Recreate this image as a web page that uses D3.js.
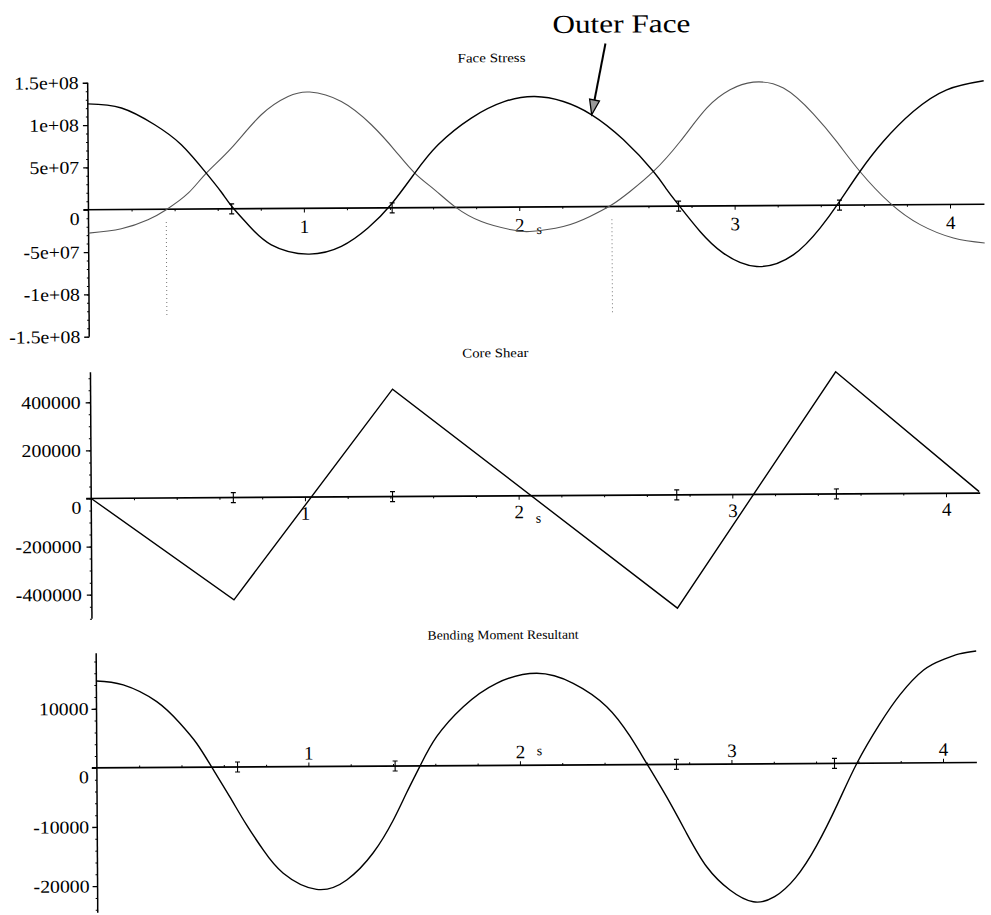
<!doctype html>
<html>
<head>
<meta charset="utf-8">
<script src="https://cdn.jsdelivr.net/npm/d3@7"></script>
<style>
    html, body {
        margin: 0;
        padding: 0;
        background: #fff;
    }
    svg {
        display: block;
    }
    .axis path.domain { display: none; }
    .axis line { stroke: #000; }
</style>
</head>
<body>
<svg id="chart" width="991" height="915"></svg>
<script>
    var SERIF = '"Liberation Serif", "Times New Roman", "DejaVu Serif", serif';

    // s axis
    var sMax = 4.16;
    var xTicks = [1, 2, 3, 4];
    var segmentEnds = [0.665, 1.41, 2.74, 3.487];

    // Face Stress
    var outerS = [0, 0.156, 0.310, 0.433, 0.548, 0.617, 0.666, 0.741, 0.848, 1.018, 1.173, 1.297, 1.404, 1.516, 1.625, 1.780, 1.936, 2.075, 2.208, 2.339, 2.485, 2.624, 2.686, 2.742, 2.839, 2.946, 3.101, 3.271, 3.396, 3.482, 3.583, 3.692, 3.832, 3.988, 4.16];
    var outerFace = [1.25e8, 1.199e8, 9.99e7, 7.61e7, 4.24e7, 2.0e7, 0.28e7, -1.89e7, -4.27e7, -5.4e7, -4.52e7, -2.37e7, 0.37e7, 4.09e7, 7.42e7, 1.055e8, 1.249e8, 1.305e8, 1.244e8, 1.085e8, 7.9e7, 4.11e7, 1.95e7, 0.07e7, -3.01e7, -5.58e7, -7.19e7, -5.84e7, -2.7e7, 0.24e7, 3.96e7, 7.48e7, 1.1e8, 1.354e8, 1.458e8];
    var innerS = [0, 0.152, 0.276, 0.361, 0.462, 0.548, 0.665, 0.805, 0.930, 1.031, 1.177, 1.316, 1.424, 1.516, 1.608, 1.701, 1.824, 1.963, 2.049, 2.204, 2.328, 2.430, 2.515, 2.624, 2.749, 2.873, 2.982, 3.090, 3.230, 3.368, 3.476, 3.583, 3.722, 3.861, 4.015, 4.16];
    var innerFace = [-2.76e7, -2.27e7, -1.23e7, -0.05e7, 1.85e7, 4.24e7, 7.18e7, 1.109e8, 1.323e8, 1.374e8, 1.26e8, 9.83e7, 6.8e7, 4.09e7, 2.1e7, 0.1e7, -1.68e7, -2.68e7, -2.89e7, -2.33e7, -1.16e7, 0.2e7, 1.76e7, 4.11e7, 7.63e7, 1.155e8, 1.37e8, 1.459e8, 1.387e8, 1.08e8, 7.5e7, 3.96e7, 0.2e7, -2.36e7, -3.96e7, -4.57e7];
    var stressTicks = [1.5e8, 1e8, 5e7, 0, -5e7, -1e8, -1.5e8];
    var stressLabels = ["1.5e+08", "1e+08", "5e+07", "0", "-5e+07", "-1e+08", "-1.5e+08"];
    var zeroMarks = [0.361, 2.43];

    // Core Shear
    var shearS = [0, 0.665, 1.413, 2.74, 3.487, 4.155];
    var shear = [0, -425000, 447000, -471000, 508000, 6000];
    var shearTicks = [400000, 200000, 0, -200000, -400000];
    var shearLabels = ["400000", "200000", "0", "-200000", "-400000"];

    // Bending Moment Resultant
    var momentS = [0, 0.127, 0.285, 0.394, 0.472, 0.543, 0.627, 0.706, 0.784, 0.878, 1.035, 1.178, 1.304, 1.400, 1.464, 1.528, 1.607, 1.734, 1.892, 2.082, 2.254, 2.412, 2.521, 2.599, 2.692, 2.786, 2.880, 2.989, 3.099, 3.20, 3.30, 3.40, 3.50, 3.593, 3.70, 3.80, 3.911, 4.0, 4.08, 4.16];
    var moment = [14700, 14010, 11140, 7460, 4060, 0, -5010, -9810, -14060, -18020, -20780, -19220, -14650, -9120, -4500, 0, 4920, 9970, 13890, 15550, 13820, 9830, 4800, 200, -5470, -11680, -17360, -21320, -23330, -22500, -19300, -13900, -6900, 0, 6500, 11600, 15700, 17400, 18400, 18870];
    var momentTicks = [10000, 0, -10000, -20000];
    var momentLabels = ["10000", "0", "-10000", "-20000"];

    var svg = d3.select("#chart");
    // the scan is a little tilted
    var root = svg.append("g").attr("transform", "rotate(-0.35,535,460)");

    var panels = [
        {title: "Face Stress", titleX: 494, titleY: 62, titleLen: 68,
         left: 90, right: 986, top: 80, bottom: 334, yDomain: [-1.5e8, 1.5e8],
         ticks: stressTicks, labels: stressLabels, minor: 1e7, labelPad: 4,
         xSide: "bottom", xPad: 7, sDy: 27,
         series: [{s: innerS, v: innerFace, color: "#555", width: 1.1, curve: d3.curveNatural},
                  {s: outerS, v: outerFace, color: "#000", width: 1.4, curve: d3.curveNatural}]},
        {title: "Core Shear", titleX: 496, titleY: 357, titleLen: 66,
         left: 91, right: 980, top: 369.5, bottom: 616, yDomain: [-500000, 525000],
         ticks: shearTicks, labels: shearLabels, minor: 50000, labelPad: 5,
         xSide: "bottom", xPad: 5, sDy: 27,
         series: [{s: shearS, v: shear, color: "#000", width: 1.4, curve: d3.curveLinear}]},
        {title: "Bending Moment Resultant", titleX: 502, titleY: 639, titleLen: 151,
         left: 95, right: 975, top: 650.5, bottom: 910, yDomain: [-24500, 19400],
         ticks: momentTicks, labels: momentLabels, minor: 2000, labelPad: 3,
         xSide: "top", xPad: 3, sDy: -10,
         series: [{s: momentS, v: moment, color: "#000", width: 1.4, curve: d3.curveNatural}]}
    ];

    var scales = panels.map(drawPanel);

    // vertical dotted markers where the inner face stress changes sign
    var fx = scales[0].x, fy = scales[0].y;
    root.selectAll(".zero-mark").data(zeroMarks).enter().append("line")
        .attr("x1", function(d){ return fx(d); })
        .attr("x2", function(d){ return fx(d); })
        .attr("y1", fy(-0.15e8))
        .attr("y2", fy(-1.28e8))
        .attr("stroke", "#777")
        .attr("stroke-width", 1)
        .attr("stroke-dasharray", "1,3");

    // "Outer Face" call-out
    root.append("text")
        .attr("x", 624).attr("y", 33)
        .attr("text-anchor", "middle")
        .attr("font-size", 26)
        .attr("textLength", 138)
        .attr("lengthAdjust", "spacingAndGlyphs")
        .style("font-family", SERIF)
        .text("Outer Face");

    var tip = [fx(2.339), fy(1.085e8)], tail = [608, 44];
    var dx = tip[0] - tail[0], dy = tip[1] - tail[1], len = Math.sqrt(dx*dx + dy*dy);
    var ux = dx / len, uy = dy / len;
    var base = [tip[0] - ux*15, tip[1] - uy*15];
    root.append("line")
        .attr("x1", tail[0]).attr("y1", tail[1])
        .attr("x2", base[0]).attr("y2", base[1])
        .attr("stroke", "#000").attr("stroke-width", 2);
    root.append("path")
        .attr("d", "M" + tip + "L" + [base[0] - uy*5, base[1] + ux*5] + "L" + [base[0] + uy*5, base[1] - ux*5] + "Z")
        .attr("fill", "#999").attr("stroke", "#000").attr("stroke-width", 1.3);

    function drawPanel(p) {
        var x = d3.scaleLinear().domain([0, sMax]).range([p.left, p.right]);
        var y = d3.scaleLinear().domain(p.yDomain).range([p.bottom, p.top]);
        var g = root.append("g");

        g.append("text")
            .attr("x", p.titleX).attr("y", p.titleY)
            .attr("text-anchor", "middle")
            .attr("font-size", 13)
            .attr("textLength", p.titleLen)
            .attr("lengthAdjust", "spacingAndGlyphs")
            .style("font-family", SERIF)
            .text(p.title);

        // y axis
        var lo = Math.ceil(p.yDomain[0] / p.minor), hi = Math.floor(p.yDomain[1] / p.minor);
        var minorVals = d3.range(lo, hi + 1).map(function(k){ return k * p.minor; });
        g.append("g").attr("class", "axis")
            .attr("transform", "translate(" + p.left + ",0)")
            .call(d3.axisLeft(y).tickValues(minorVals).tickSize(2).tickFormat(""));

        var yAxis = g.append("g").attr("class", "axis y-axis")
            .attr("transform", "translate(" + p.left + ",0)")
            .call(d3.axisLeft(y).tickValues(p.ticks)
                .tickFormat(function(d, i){ return p.labels[i]; })
                .tickSizeInner(5).tickSizeOuter(0).tickPadding(p.labelPad));
        yAxis.attr("font-family", null);
        yAxis.selectAll("line").attr("stroke-width", 1.3);
        yAxis.selectAll("text")
            .attr("font-size", 18)
            .style("font-family", SERIF)
            .style("fill", "#000")
            .each(function(){
                var w = this.getComputedTextLength();
                d3.select(this).attr("textLength", w * 1.1).attr("lengthAdjust", "spacingAndGlyphs");
            })
            .filter(function(d){ return d === 0; })
            .attr("y", 9);

        g.append("line")
            .attr("x1", p.left).attr("x2", p.left)
            .attr("y1", p.top).attr("y2", p.bottom)
            .attr("stroke", "#000").attr("stroke-width", 1.5);

        // s axis
        var y0 = y(0);
        var minorS = d3.range(1, 21).map(function(k){ return k * 0.2; })
            .filter(function(d){ return Math.abs(d - Math.round(d)) > 0.01 && d < sMax; });
        var mk = p.xSide === "top" ? d3.axisTop : d3.axisBottom;
        g.append("g").attr("class", "axis")
            .attr("transform", "translate(0," + y0 + ")")
            .call(mk(x).tickValues(minorS).tickSize(2).tickFormat(""));
        var xAxis = g.append("g").attr("class", "axis")
            .attr("transform", "translate(0," + y0 + ")")
            .call(mk(x).tickValues(xTicks).tickFormat(d3.format("d")).tickSize(4).tickPadding(p.xPad));
        xAxis.attr("font-family", null);
        xAxis.selectAll("text")
            .attr("font-size", 19)
            .style("font-family", SERIF)
            .style("fill", "#000");

        g.append("line")
            .attr("x1", p.left - 5).attr("x2", p.right)
            .attr("y1", y0).attr("y2", y0)
            .attr("stroke", "#000").attr("stroke-width", 1.7);

        g.append("text")
            .attr("x", x(2) + 17).attr("y", y0 + p.sDy)
            .attr("font-size", 14)
            .style("font-family", SERIF)
            .text("s");

        // segment end marks
        g.selectAll(".seg").data(segmentEnds).enter().append("path")
            .attr("d", function(d){
                var cx = x(d);
                return "M" + (cx - 2.5) + "," + (y0 - 5) + "h5" +
                       "M" + cx + "," + (y0 - 5) + "v10" +
                       "M" + (cx - 2.5) + "," + (y0 + 5) + "h5";
            })
            .attr("stroke", "#000").attr("stroke-width", 1.1).attr("fill", "none");

        // curves
        p.series.forEach(function(sr){
            var pts = sr.s.map(function(s, i){ return [s, sr.v[i]]; });
            g.append("path")
                .datum(pts)
                .attr("fill", "none")
                .attr("stroke", sr.color)
                .attr("stroke-width", sr.width)
                .attr("d", d3.line()
                    .x(function(d){ return x(d[0]); })
                    .y(function(d){ return y(d[1]); })
                    .curve(sr.curve));
        });

        return {x: x, y: y};
    }
</script>
</body>
</html>
